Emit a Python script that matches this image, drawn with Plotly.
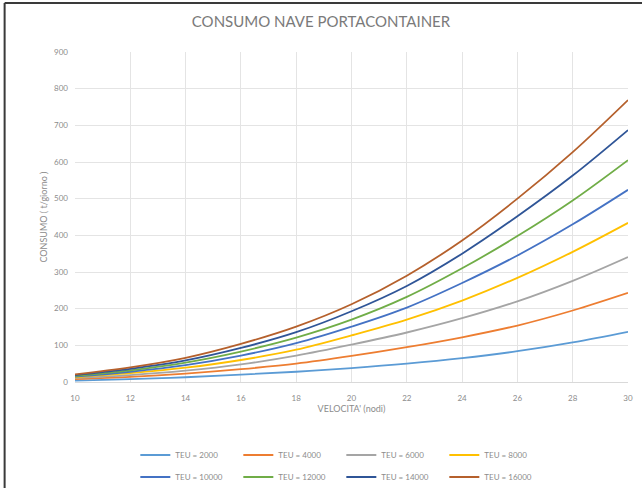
import plotly.graph_objects as go

velocita = [10, 12, 14, 16, 18, 20, 22, 24, 26, 28, 30]
teu_labels = ["TEU = 2000", "TEU = 4000", "TEU = 6000", "TEU = 8000",
              "TEU = 10000", "TEU = 12000", "TEU = 14000", "TEU = 16000"]
teu_2000 = [4, 8, 13, 20, 28, 38, 50, 65, 84, 108, 137]
teu_4000 = [8, 14, 23, 35, 50, 71, 95, 122, 154, 195, 243]
teu_6000 = [11, 19, 31, 48, 72, 102, 135, 174, 220, 276, 341]
teu_8000 = [13, 24, 39, 60, 88, 127, 170, 222, 284, 355, 434]
teu_10000 = [15, 28, 46, 72, 106, 151, 203, 270, 345, 430, 524]
teu_12000 = [17, 32, 53, 83, 121, 170, 232, 310, 398, 495, 605]
teu_14000 = [19, 36, 59, 93, 136, 193, 262, 350, 452, 563, 687]
teu_16000 = [21, 40, 66, 104, 151, 212, 290, 386, 500, 627, 769]
series = [teu_2000, teu_4000, teu_6000, teu_8000, teu_10000, teu_12000, teu_14000, teu_16000]
colors = ["#5B9BD5", "#ED7D31", "#A5A5A5", "#FFC000",
          "#4472C4", "#70AD47", "#2F5597", "#B5602C"]

FONT = "Lato"
fig = go.Figure()
for i, (name, vals, col) in enumerate(zip(teu_labels, series, colors)):
    fig.add_trace(go.Scatter(
        x=velocita, y=vals, name=name, mode="lines",
        line=dict(color=col, width=1.8, shape="spline"),
        legend="legend" if i < 4 else "legend2",
    ))

leg_common = dict(orientation="h", x=(135 - 75) / 550, xanchor="left", yanchor="middle",
                  font=dict(size=8, color="#8c8c8c"), itemwidth=30,
                  entrywidth=58, entrywidthmode="pixels",
                  tracegroupgap=0, bgcolor="rgba(0,0,0,0)")

fig.update_layout(
    width=642, height=488,
    margin=dict(l=75, r=14, t=52, b=106, autoexpand=False),
    paper_bgcolor="white", plot_bgcolor="white",
    font=dict(family=FONT, color="#8c8c8c", size=9),
    title=dict(text="CONSUMO NAVE PORTACONTAINER", x=0.5, xanchor="center",
               y=1 - 22 / 488, yanchor="middle",
               font=dict(family=FONT, size=15, color="#7a7a7a")),
    xaxis=dict(range=[10, 30], dtick=2, tick0=10, showgrid=True,
               gridcolor="#e4e4e4", gridwidth=1, zeroline=False,
               showline=True, linecolor="#d9d9d9", ticks="",
               ticklabelstandoff=8,
               tickfont=dict(size=8, color="#8c8c8c"),
               title=dict(text="VELOCITA' (nodi)", standoff=4,
                          font=dict(size=9, color="#8c8c8c"))),
    yaxis=dict(range=[0, 900], dtick=100, showgrid=True,
               gridcolor="#e4e4e4", gridwidth=1, zeroline=False,
               showline=False, ticks="", ticklen=0,
               ticklabelstandoff=6,
               tickfont=dict(size=8, color="#8c8c8c"),
               title=dict(text="CONSUMO ( t/giorno )", standoff=4,
                          font=dict(size=9, color="#8c8c8c"))),
    legend=dict(y=(382 - 455) / 330, **leg_common),
    legend2=dict(y=(382 - 477) / 330, **leg_common),
    showlegend=True,
)

# outer frame lines (left and top), as in the scanned reference
x_left = (5 - 75) / 550
y_top = (382 - 3) / 330
fig.add_shape(type="line", xref="paper", yref="paper",
              x0=x_left, x1=x_left, y0=-106 / 330, y1=y_top,
              line=dict(color="#3a3a3a", width=2))
fig.add_shape(type="line", xref="paper", yref="paper",
              x0=x_left, x1=(642 - 75) / 550, y0=y_top, y1=y_top,
              line=dict(color="#3a3a3a", width=2))

fig.write_html("out.html", config={"displayModeBar": False},
               post_script="document.body.style.margin='0';")
